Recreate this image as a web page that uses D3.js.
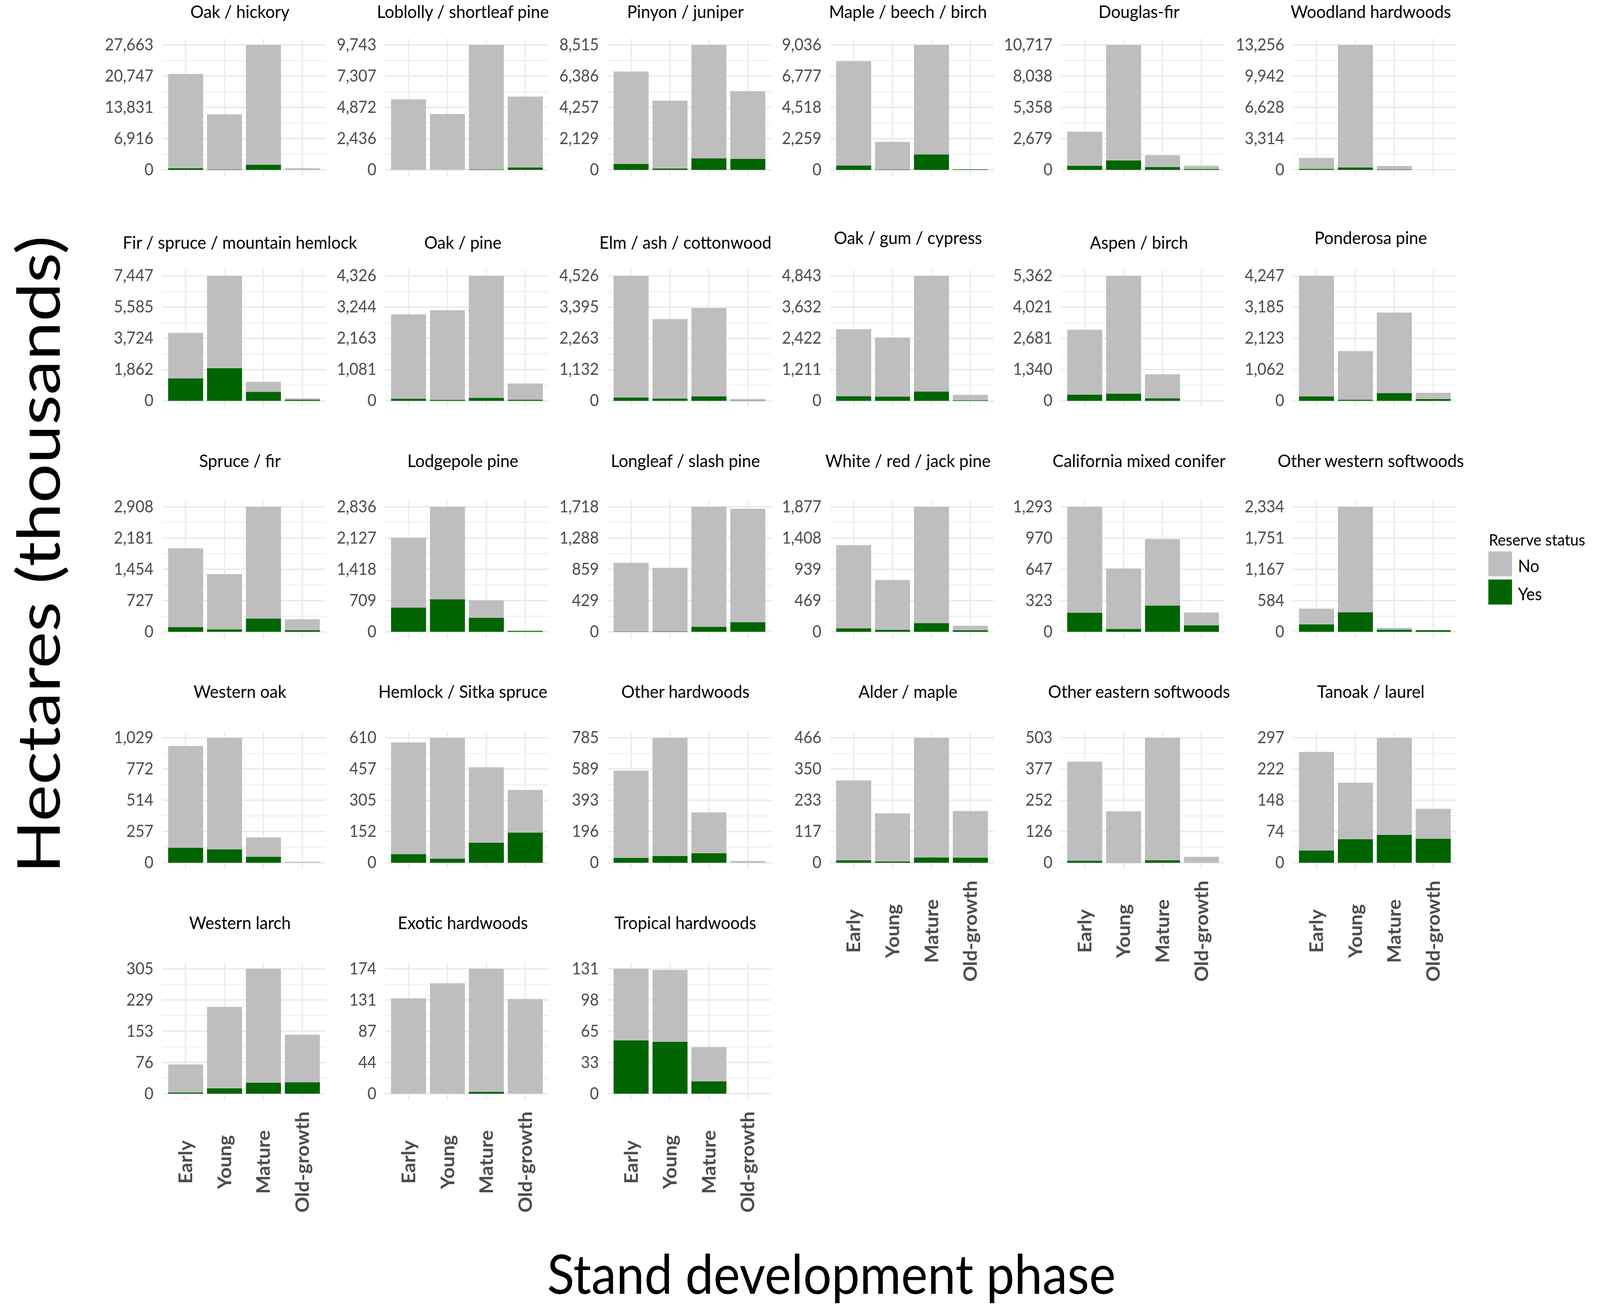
<!DOCTYPE html>
<html>
<head>
<meta charset="utf-8">
<script src="https://cdnjs.cloudflare.com/ajax/libs/d3/7.8.5/d3.min.js"></script>
<style>
html, body { margin: 0; padding: 0; overflow: hidden; background: #fff; }
svg { display: block; }
text { font-family: Lato, "Open Sans", sans-serif; }
</style>
</head>
<body>
<script>
// forest type groups, in facet order
var forestTypes = [
    'Oak / hickory', 'Loblolly / shortleaf pine', 'Pinyon / juniper', 'Maple / beech / birch', 'Douglas-fir', 'Woodland hardwoods',
    'Fir / spruce / mountain hemlock', 'Oak / pine', 'Elm / ash / cottonwood', 'Oak / gum / cypress', 'Aspen / birch', 'Ponderosa pine',
    'Spruce / fir', 'Lodgepole pine', 'Longleaf / slash pine', 'White / red / jack pine', 'California mixed conifer', 'Other western softwoods',
    'Western oak', 'Hemlock / Sitka spruce', 'Other hardwoods', 'Alder / maple', 'Other eastern softwoods', 'Tanoak / laurel',
    'Western larch', 'Exotic hardwoods', 'Tropical hardwoods'
];
var phases = ['Early', 'Young', 'Mature', 'Old-growth'];
var reserveStatus = ['No', 'Yes'];

// thousands of hectares, not reserved (Early, Young, Mature, Old-growth)
var notReserved = [
    [20865, 12220, 26512.6, 345],
    [5491, 4349, 9713.2, 5531],
    [6298, 4621, 7725.8, 4612],
    [7549, 1994, 7916, 10],
    [2914, 9901.8, 1015, 279],
    [1160, 13007, 374, 0],
    [2715, 5500.2, 598, 77],
    [2920, 3104, 4221.8, 559],
    [4408.2, 2876, 3201, 52],
    [2593, 2286, 4480.2, 207],
    [2782, 5054.8, 1033, 0],
    [4096.8, 1650, 2734, 216],
    [1833, 1284, 2599, 252],
    [1584, 2097, 396, 0],
    [944, 873, 1649.8, 1559],
    [1251, 747, 1746.2, 67],
    [1096.2, 625, 687, 132],
    [294, 1969.2, 34, 2],
    [838, 918.8, 160, 8],
    [545, 589.8, 368, 208],
    [548, 742.2, 256, 11],
    [298, 179, 446.2, 174],
    [399, 206, 493.2, 24],
    [234, 134, 230.6, 71],
    [68.5, 199, 278.2, 116],
    [133, 154, 171.7, 132],
    [75, 75.2, 35.7, 0]
];

// thousands of hectares, reserved
var reserved = [
    [375, 80, 1150, 30],
    [10, 5, 30, 183],
    [399, 98, 789, 754],
    [311, 30, 1120, 40],
    [357, 815, 246, 78],
    [110, 249, 40, 0],
    [1334, 1947, 535, 70],
    [72, 32, 104, 40],
    [118, 85, 160, 14],
    [182, 166, 363, 25],
    [268, 307, 106, 0],
    [150, 40, 265, 58],
    [109, 58, 309, 39],
    [549, 739, 319, 21],
    [4, 7, 68, 132],
    [51, 31, 131, 23],
    [197, 30, 272, 67],
    [139, 365, 39, 30],
    [124, 110, 49, 0],
    [42, 20, 98, 147],
    [30, 43, 60, 0],
    [9, 5, 20, 19],
    [8, 1, 10, 0],
    [29, 56, 66, 57],
    [3, 13, 27, 28],
    [0, 0, 2.5, 0],
    [55.8, 54.4, 13, 0]
];

(function () {
    'use strict';
    var width = 4328, height = 3357;
    var colX = [439, 1042, 1644, 2246, 2871, 3498];
    var panelW = 442;
    var plotH = 320;
    var expand = 0.05;
    var rowTop0 = 115, rowStep = 591.4;
    var fill = {No: '#bebebe', Yes: '#006400'};
    var grid = '#ebebeb';
    var axisGrey = '#4d4d4d';
    // some strip titles sit a little higher than the rest
    var titleLift = {'Oak / gum / cypress': 12, 'Ponderosa pine': 12};
    var fmt = d3.format(',.0f');

    // draw in reference pixels, stretch to whatever the window is
    var svg = d3.select('body')
        .append('svg')
        .attr('viewBox', '0 0 ' + width + ' ' + height)
        .attr('preserveAspectRatio', 'none')
        .style('width', '100vw')
        .style('height', '100vh')
        .style('background', '#fff');

    var stack = d3.stack().keys(['Yes', 'No']);

    forestTypes.forEach(function (name, i) {
        var row = Math.floor(i / 6);
        var col = i % 6;
        var left = colX[col];
        var top = rowTop0 + row * rowStep;
        var zero = top + plotH;

        var rows = phases.map(function (p, j) {
            return {phase: p, Yes: reserved[i][j], No: notReserved[i][j]};
        });
        var yMax = d3.max(rows, function (d) { return d.Yes + d.No; });

        var x = d3.scaleBand()
            .domain(phases)
            .range([left, left + panelW])
            .paddingInner(0.1)
            .paddingOuter(0.15);
        var y = d3.scaleLinear()
            .domain([0, yMax])
            .range([zero, top]);

        var majors = d3.range(5).map(function (k) { return yMax * k / 4; });
        var minors = d3.range(4).map(function (k) { return yMax * (k + 0.5) / 4; });

        var g = svg.append('g');

        // grid
        g.selectAll('line.minor')
            .data(minors)
            .enter()
            .append('line')
            .attr('x1', left)
            .attr('x2', left + panelW)
            .attr('y1', function (d) { return y(d); })
            .attr('y2', function (d) { return y(d); })
            .attr('stroke', grid)
            .attr('stroke-width', 2);
        g.selectAll('line.major')
            .data(majors)
            .enter()
            .append('line')
            .attr('x1', left)
            .attr('x2', left + panelW)
            .attr('y1', function (d) { return y(d); })
            .attr('y2', function (d) { return y(d); })
            .attr('stroke', grid)
            .attr('stroke-width', 4);
        g.selectAll('line.vert')
            .data(phases)
            .enter()
            .append('line')
            .attr('x1', function (d) { return x(d) + x.bandwidth() / 2; })
            .attr('x2', function (d) { return x(d) + x.bandwidth() / 2; })
            .attr('y1', y(-expand * yMax))
            .attr('y2', y((1 + expand) * yMax))
            .attr('stroke', grid)
            .attr('stroke-width', 3.5);

        // stacked bars
        var layers = g.selectAll('g.layer')
            .data(stack(rows))
            .enter()
            .append('g')
            .attr('fill', function (d) { return fill[d.key]; });
        layers.selectAll('rect')
            .data(function (d) { return d; })
            .enter()
            .append('rect')
            .attr('x', function (d) { return x(d.data.phase); })
            .attr('width', x.bandwidth())
            .attr('y', function (d) { return y(d[1]); })
            .attr('height', function (d) { return Math.max(0, y(d[0]) - y(d[1])); });

        // y axis
        var ax = g.append('g')
            .attr('transform', 'translate(' + left + ',0)')
            .call(d3.axisLeft(y).tickValues(majors).tickFormat(fmt).tickSize(0).tickPadding(24));
        ax.select('.domain').remove();
        ax.attr('font-family', null).attr('font-size', null);
        ax.selectAll('text')
            .attr('fill', axisGrey)
            .style('font-size', '42px');

        // strip title
        var lift = titleLift[name] || 0;
        g.append('text')
            .attr('x', left + panelW / 2 - 11)
            .attr('y', top - (row < 2 ? 69 : 102) - lift)
            .attr('text-anchor', 'middle')
            .style('font-size', '45px')
            .attr('fill', '#000')
            .text(name);

        // x labels only on the lowest panel of each column
        if (i + 6 >= forestTypes.length) {
            g.selectAll('text.xl')
                .data(phases)
                .enter()
                .append('text')
                .attr('transform', function (d) {
                    return 'translate(' + (x(d) + x.bandwidth() / 2) + ',' + (zero + 175) + ') rotate(-90)';
                })
                .attr('text-anchor', 'middle')
                .attr('dy', '0.36em')
                .style('font-size', '50px')
                .style('font-weight', 'bold')
                .attr('fill', axisGrey)
                .text(function (d) { return d; });
        }
    });

    // axis titles
    svg.append('text')
        .attr('transform', 'translate(162,1420) rotate(-90)')
        .attr('text-anchor', 'middle')
        .attr('textLength', 1633)
        .attr('lengthAdjust', 'spacingAndGlyphs')
        .style('font-size', '160px')
        .attr('fill', '#000')
        .text('Hectares (thousands)');
    svg.append('text')
        .attr('x', 2249)
        .attr('y', 3313)
        .attr('text-anchor', 'middle')
        .attr('textLength', 1538)
        .attr('lengthAdjust', 'spacingAndGlyphs')
        .style('font-size', '140px')
        .attr('fill', '#000')
        .text('Stand development phase');

    // legend
    var legend = svg.append('g').attr('transform', 'translate(4026,0)');
    legend.append('text')
        .attr('x', 1)
        .attr('y', 1397)
        .style('font-size', '41px')
        .attr('fill', '#000')
        .text('Reserve status');
    var keys = legend.selectAll('g.key')
        .data(reserveStatus)
        .enter()
        .append('g')
        .attr('transform', function (d, k) { return 'translate(0,' + (1412 + k * 72) + ')'; });
    keys.append('rect')
        .attr('width', 64)
        .attr('height', 64)
        .attr('fill', function (d) { return fill[d]; });
    keys.append('text')
        .attr('x', 80)
        .attr('y', 53)
        .style('font-size', '44px')
        .attr('fill', '#000')
        .text(function (d) { return d; });
}());
</script>
</body>
</html>
